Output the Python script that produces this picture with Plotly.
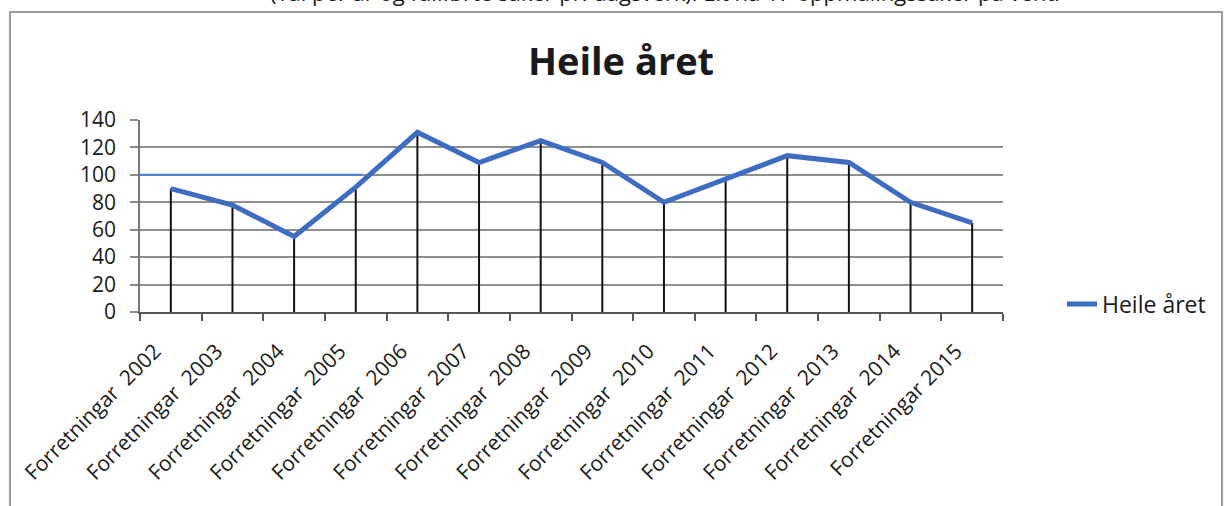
import plotly.graph_objects as go

categories = ["Forretningar  2002", "Forretningar  2003", "Forretningar  2004",
              "Forretningar  2005", "Forretningar  2006", "Forretningar  2007",
              "Forretningar  2008", "Forretningar  2009", "Forretningar  2010",
              "Forretningar  2011", "Forretningar  2012", "Forretningar  2013",
              "Forretningar  2014", "Forretningar 2015"]
values = [90, 78, 55, 91, 131, 109, 125, 109, 80, 97, 114, 109, 80, 65]
series_name = "Heile året"
title_text = "Heile året"
y_ticks = [0, 20, 40, 60, 80, 100, 120, 140]
ref_level = 100
top_note = "(Tal per år og fullførte saker pr. dagsverk). Eit nå 17 oppmålingssaker på vent."

FONT = "Open Sans"
BLUE = "#3d6cc0"

W, H = 1226, 506
L, T = 140, 120
pw, ph = 863, 192
R, B = W - L - pw, H - T - ph


def px_x(p):
    return (p - L) / pw


def px_y(q):
    return (T + ph - q) / ph


fig = go.Figure()

# drop lines from the axis up to each point
fig.add_trace(go.Scatter(
    x=categories, y=values, mode="markers",
    marker=dict(size=1, color="rgba(0,0,0,0)"),
    error_y=dict(type="data", symmetric=False, array=[0] * len(values),
                 arrayminus=values, color="#111111", thickness=2, width=0),
    showlegend=False, hoverinfo="skip"))

fig.add_trace(go.Scatter(
    x=categories, y=values, mode="lines", name=series_name,
    line=dict(color=BLUE, width=5)))

fig.add_shape(type="line", xref="x", yref="y", x0=-0.62, x1=3.1,
              y0=ref_level, y1=ref_level, line=dict(color="#4a7fd6", width=2))

fig.add_shape(type="rect", xref="paper", yref="paper",
              x0=px_x(10), x1=px_x(1222), y0=px_y(530), y1=px_y(12),
              line=dict(color="#9a9a9a", width=2), layer="below")

fig.add_annotation(text=top_note, xref="paper", yref="paper",
                   x=px_x(665), y=px_y(-8), showarrow=False,
                   font=dict(family=FONT, size=22, color="#1a1a1a"),
                   xanchor="center", yanchor="middle")

fig.update_layout(
    width=W, height=H,
    margin=dict(l=L, r=R, t=T, b=B, autoexpand=False),
    paper_bgcolor="white", plot_bgcolor="white",
    title=dict(text="<b>" + title_text + "</b>", xref="paper", x=px_x(621),
               xanchor="center", yref="container", y=1 - 62 / H,
               yanchor="middle",
               font=dict(family=FONT, size=38, color="#1a1a1a")),
    font=dict(family=FONT, color="#1a1a1a"),
    showlegend=True,
    legend=dict(x=px_x(1062), y=px_y(304), xanchor="left", yanchor="middle",
                font=dict(family=FONT, size=23, color="#1a1a1a"),
                bgcolor="rgba(0,0,0,0)", itemwidth=30),
    xaxis=dict(type="category", tickson="boundaries", ticks="outside",
               ticklen=7, tickwidth=1.5, tickcolor="#555555",
               showline=True, linecolor="#555555", linewidth=1.5,
               showgrid=False, tickangle=-45,
               ticklabelshift=-16, ticklabelstandoff=17,
               tickfont=dict(family=FONT, size=21, color="#1a1a1a"),
               range=[-0.5, len(categories) - 0.5]),
    yaxis=dict(range=[0, 140], tickvals=y_ticks, ticks="outside",
               ticklen=8, tickwidth=1.5, tickcolor="#888888",
               showline=True, linecolor="#777777", linewidth=1.5,
               showgrid=True, gridcolor="#8f8f8f", gridwidth=1.5,
               zeroline=False, ticklabelstandoff=10,
               tickfont=dict(family=FONT, size=21, color="#1a1a1a")),
)

fig.write_html("out.html",
               config={"displayModeBar": False},
               post_script="document.body.style.margin='0';document.body.style.overflow='hidden';")
